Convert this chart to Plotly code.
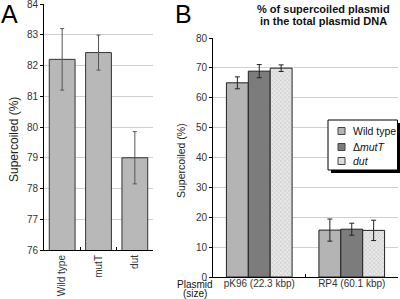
import plotly.graph_objects as go

# Panel A data
a_categories = ["Wild type", "mutT", "dut"]
a_values = [82.2, 82.42, 79.0]
a_errors = [1.0, 0.57, 0.85]

# Panel B data
b_categories = ["pK96 (22.3 kbp)", "RP4 (60.1 kbp)"]
b_series = ["Wild type", "Δ<i>mutT</i>", "<i>dut</i>"]
b_wt = [65.0, 15.7]
b_wt_err = [2.0, 3.7]
b_mutT = [68.9, 16.0]
b_mutT_err = [2.2, 2.0]
b_dut = [69.9, 15.6]
b_dut_err = [1.1, 3.4]

a_ticks = [76, 77, 78, 79, 80, 81, 82, 83, 84]
b_ticks = [0, 10, 20, 30, 40, 50, 60, 70, 80]

W, H = 400, 299
def px(x):
    return x / W
def py(y):
    return 1 - y / H

FONT = "Liberation Sans, Arial, sans-serif"

fig = go.Figure()

fig.add_trace(go.Bar(
    x=a_categories, y=a_values, xaxis="x", yaxis="y",
    marker=dict(color="#b8b8b8", line=dict(color="#333333", width=1)),
    error_y=dict(type="data", array=a_errors, color="#555555", thickness=1, width=2),
    showlegend=False,
))

b_vals = [b_wt, b_mutT, b_dut]
b_errs = [b_wt_err, b_mutT_err, b_dut_err]
b_fill = ["#b4b4b4", "#7c7c7c", "#dcdcdc"]
b_markers = [
    dict(color=b_fill[0], line=dict(color="#222222", width=1)),
    dict(color=b_fill[1], line=dict(color="#222222", width=1)),
    dict(color=b_fill[2], line=dict(color="#222222", width=1),
         pattern=dict(shape="x", size=3, solidity=0.3, fgcolor="#9a9a9a", bgcolor="#e8e8e8")),
]
for name, vals, errs, mk in zip(b_series, b_vals, b_errs, b_markers):
    fig.add_trace(go.Bar(
        x=b_categories, y=vals, name=name, xaxis="x2", yaxis="y2",
        marker=mk, showlegend=False,
        error_y=dict(type="data", array=errs, color="#222222", thickness=1, width=2.5),
    ))

axis_common = dict(
    showline=True, linecolor="#000000", linewidth=1, automargin=False,
    tickfont=dict(family=FONT, size=10, color="#333333"),
)

fig.update_layout(
    width=W, height=H,
    margin=dict(l=0, r=0, t=0, b=0, autoexpand=False),
    plot_bgcolor="white", paper_bgcolor="white",
    barmode="group", bargap=0.29, bargroupgap=0,
    font=dict(family=FONT, color="#111111"),
    showlegend=False,
    xaxis=dict(domain=[px(44), px(153)], anchor="y", ticks="inside", ticklen=3,
               tickson="boundaries", tickcolor="#000000", tickangle=-90,
               showgrid=False, **axis_common),
    yaxis=dict(domain=[py(250), py(4)], anchor="x", range=[76, 84],
               tickvals=a_ticks, ticks="outside", ticklen=3, tickcolor="#000000",
               ticklabeloverflow="allow",
               showgrid=True, gridcolor="#d0d0d0", gridwidth=1, zeroline=False,
               **axis_common),
    xaxis2=dict(domain=[px(213), px(398)], anchor="y2", ticks="inside", ticklen=3,
                tickson="boundaries", tickcolor="#000000", tickangle=0,
                ticklabelstandoff=-3,
                showgrid=False, **axis_common),
    yaxis2=dict(domain=[py(277), py(38)], anchor="x2", range=[0, 80],
                tickvals=b_ticks, ticks="outside", ticklen=3, tickcolor="#000000",
                showgrid=True, gridcolor="#d0d0d0", gridwidth=1, zeroline=False,
                **axis_common),
)

# Legend box (drawn manually, with drop shadow)
fig.add_shape(type="rect", xref="paper", yref="paper",
              x0=px(331), x1=px(400), y0=py(173), y1=py(123),
              fillcolor="#000000", line=dict(width=0), layer="above")
fig.add_shape(type="rect", xref="paper", yref="paper",
              x0=px(328), x1=px(397.5), y0=py(170), y1=py(120),
              fillcolor="#ffffff", line=dict(color="#000000", width=1), layer="above")
legend_rows = [131, 147, 161]
for name, fill, yy in zip(b_series, b_fill, legend_rows):
    fig.add_shape(type="rect", xref="paper", yref="paper",
                  x0=px(338), x1=px(345), y0=py(yy + 3.5), y1=py(yy - 3.5),
                  fillcolor=fill, line=dict(color="#444444", width=1), layer="above")
    fig.add_annotation(text=name, xref="paper", yref="paper", showarrow=False,
                       x=px(351), y=py(yy), xanchor="left", yanchor="middle",
                       font=dict(size=10.5, family=FONT, color="#111111"))

annotations = [
    dict(text="A", x=px(-1), y=py(14), xanchor="left", yanchor="middle",
         font=dict(size=25, family=FONT, color="#000000")),
    dict(text="B", x=px(173), y=py(14), xanchor="left", yanchor="middle",
         font=dict(size=25, family=FONT, color="#000000")),
    dict(text="Supercoiled (%)", x=px(14), y=py(140), textangle=-90,
         xanchor="center", yanchor="middle",
         font=dict(size=12, family=FONT, color="#222222")),
    dict(text="Supercoiled (%)", x=px(181), y=py(161), textangle=-90,
         xanchor="center", yanchor="middle",
         font=dict(size=10.5, family=FONT, color="#222222")),
    dict(text="<b>% of supercoiled plasmid</b>",
         x=px(323), y=py(9.5), xanchor="center", yanchor="middle",
         font=dict(size=11, family=FONT, color="#111111")),
    dict(text="<b>in the total plasmid DNA</b>",
         x=px(323), y=py(21.5), xanchor="center", yanchor="middle",
         font=dict(size=11, family=FONT, color="#111111")),
    dict(text="Plasmid", x=px(195), y=py(284.5), xanchor="center",
         yanchor="middle", borderpad=0,
         font=dict(size=10, family=FONT, color="#111111")),
    dict(text="(size)", x=px(195), y=py(293), xanchor="center",
         yanchor="middle", borderpad=0,
         font=dict(size=10, family=FONT, color="#111111")),
]
for a in annotations:
    fig.add_annotation(xref="paper", yref="paper", showarrow=False, **a)

fig.write_html("out.html", config={"displayModeBar": False},
               post_script="document.body.style.margin='0';")
